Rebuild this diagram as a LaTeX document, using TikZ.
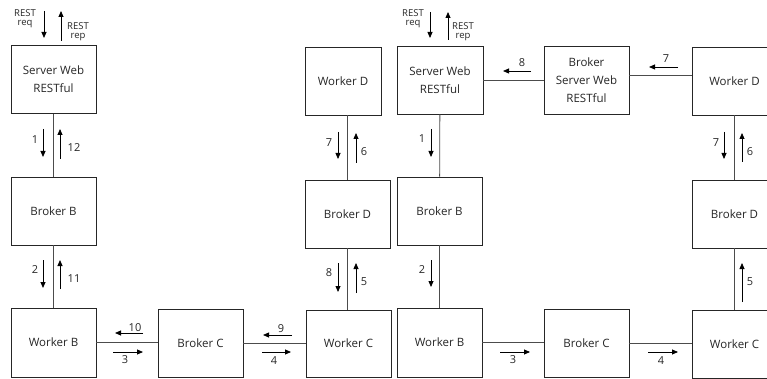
\documentclass[tikz,border=0pt]{standalone}
\usepackage{fontspec}
\setmainfont{Open Sans}
\usetikzlibrary{arrows.meta}
\begin{document}
\begin{tikzpicture}[x=1pt,y=-1pt,
  box/.style={draw=black!85, line width=0.8pt, minimum width=85pt, minimum height=68pt, inner sep=0pt, align=center, font=\fontsize{11.5}{18}\selectfont, text=black!85},
  link/.style={draw=black!70, line width=0.8pt},
  flow/.style={line width=0.8pt, draw=black, -{Triangle[length=6pt,width=5pt]}},
  num/.style={inner sep=0pt, font=\fontsize{11}{12}\selectfont, text=black!85},
  rest/.style={inner sep=0pt, align=center, font=\fontsize{9.5}{8.6}\selectfont, text=black!85}]
\useasboundingbox (0,0) rectangle (767,379);
\clip (0,0) rectangle (767,379);
% boxes
\node[box] (sw1) at (53.5,79.5) {Server Web\\RESTful};
\node[box] (bb1) at (53.5,211) {Broker B};
\node[box, minimum height=69pt] (wb1) at (53.5,342.5) {Worker B};
\node[box] (bc1) at (200.5,343) {Broker C};
\node[box, minimum height=67pt] (wc1) at (348.5,343.5) {Worker C};
\node[box, minimum width=76pt] (wd1) at (343,81) {Worker D};
\node[box] (bd1) at (347.5,214) {Broker D};
\node[box, minimum width=86pt] (sw2) at (440,80) {Server Web\\RESTful};
\node[box] (bb2) at (439.5,211) {Broker B};
\node[box, minimum height=69pt] (wb2) at (439.5,342.5) {Worker B};
\node[box] (bsw) at (586.5,80) {Broker\\Server Web\\RESTful};
\node[box] (wd2) at (734.5,81) {Worker D};
\node[box] (bd2) at (734.5,214) {Broker D};
\node[box] (bc2) at (586.5,343) {Broker C};
\node[box] (wc2) at (734.5,344) {Worker C};
% connectors
\draw[link] (sw1) -- (bb1);
\draw[link] (bb1) -- (wb1);
\draw[link] (wb1.east) -- (wb1.east -| bc1.west);
\draw[link] (bc1.east) -- (bc1.east -| wc1.west);
\draw[link] (bd1.north) -- (bd1.north |- wd1.south);
\draw[link] (bd1.south) -- (bd1.south |- wc1.north);
\draw[link] (sw2) -- (bb2);
\draw[link] (bb2) -- (wb2);
\draw[link] (wb2.east) -- (wb2.east -| bc2.west);
\draw[link] (bc2.east) -- (bc2.east -| wc2.west);
\draw[link] (sw2.east) -- (sw2.east -| bsw.west);
\coordinate (m) at ([yshift=5pt]bsw.east);
\draw[link] (m) -- (m -| wd2.west);
\draw[link] (wd2) -- (bd2);
\draw[link] (bd2) -- (wc2);
% left column flows
\node[rest] at (25,19) {REST\\req};
\draw[flow] (44,11) -- (44,38);
\draw[flow] (61,41) -- (61,11);
\node[rest] at (78,32) {REST\\rep};
\node[num] at (35,140) {1};
\draw[flow] (43,129) -- (43,157);
\draw[flow] (60,159) -- (60,129);
\node[num] at (74,148) {12};
\node[num] at (35,270) {2};
\draw[flow] (43,260) -- (43,288);
\draw[flow] (60,289) -- (60,260);
\node[num] at (74,279) {11};
\node[num] at (135,328) {10};
\draw[flow] (143,333) -- (115,333);
\draw[flow] (113,352) -- (143,352);
\node[num] at (125,360) {3};
\node[num] at (281,329) {9};
\draw[flow] (292,335) -- (263,335);
\draw[flow] (262,352) -- (291,352);
\node[num] at (274,361) {4};
% middle column flows
\node[num] at (329,143) {7};
\draw[flow] (338,132) -- (338,159);
\draw[flow] (356,163) -- (356,133);
\node[num] at (364,152) {6};
\node[num] at (329,273) {8};
\draw[flow] (338,263) -- (338,292);
\draw[flow] (356,293) -- (356,263);
\node[num] at (364,282) {5};
\node[rest] at (413,19) {REST\\req};
\draw[flow] (430,12) -- (430,38);
\draw[flow] (448,40) -- (448,12);
\node[rest] at (463,32) {REST\\rep};
\node[num] at (422,139) {1};
\draw[flow] (431,129) -- (431,157);
\node[num] at (422,270) {2};
\draw[flow] (431,260) -- (431,287);
\node[num] at (522,63) {8};
\draw[flow] (531,71) -- (503,71);
\node[num] at (666,59) {7};
\draw[flow] (678,67) -- (649,67);
% right column flows
\node[num] at (716,143) {7};
\draw[flow] (724,132) -- (724,159);
\draw[flow] (742,162) -- (742,133);
\node[num] at (750,152) {6};
\draw[flow] (742,302) -- (742,263);
\node[num] at (750,282) {5};
\node[num] at (513,360) {3};
\draw[flow] (500,352) -- (530,352);
\node[num] at (661,361) {4};
\draw[flow] (648,352) -- (678,352);
\end{tikzpicture}
\end{document}
